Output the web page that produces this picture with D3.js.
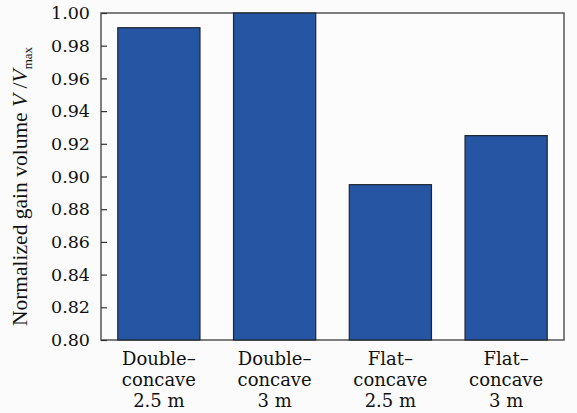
<!DOCTYPE html>
<html>
<head>
<meta charset="utf-8">
<script src="https://cdn.jsdelivr.net/npm/d3@7"></script>
<style>
  body { margin: 0; background: #fbfbfb; }
  svg { display: block; }
</style>
</head>
<body>
<div id="bar-chart"></div>
<script>
/* Normalized gain volume per cavity type */

const categories = [
    ["Double\u2013", "concave", "2.5 m"],
    ["Double\u2013", "concave", "3 m"],
    ["Flat\u2013", "concave", "2.5 m"],
    ["Flat\u2013", "concave", "3 m"]
];
const values = [0.991, 1.000, 0.895, 0.925];
const yTicks = [0.80, 0.82, 0.84, 0.86, 0.88, 0.90, 0.92, 0.94, 0.96, 0.98, 1.00];

const width = 577;
const height = 413;
const margin = ({ top: 13, right: 13, bottom: 73, left: 101 });

let svg = d3.select("#bar-chart")
            .append("svg")
            .attr("width", width)
            .attr("height", height)
            .attr("viewBox", [0, 0, width, height]);

const data = values.map((v, i) => ({ key: i, label: categories[i], value: v }));

const x = d3.scaleBand()
            .domain(data.map(d => d.key))
            .range([margin.left, width - margin.right])
            .paddingInner(0.29)
            .paddingOuter(0.145);

const y = d3.scaleLinear()
            .domain([0.80, 1.00])
            .range([height - margin.bottom, margin.top]);

// plot frame
svg.append("rect")
    .attr("x", margin.left)
    .attr("y", margin.top)
    .attr("width", width - margin.left - margin.right)
    .attr("height", height - margin.top - margin.bottom)
    .attr("fill", "#fcfcfc")
    .attr("stroke", "#555")
    .attr("stroke-width", 1.5);

// bars
svg.selectAll(".bar")
    .data(data)
    .join("rect")
    .attr("class", "bar")
    .attr("x", d => x(d.key))
    .attr("width", x.bandwidth())
    .attr("y", d => y(d.value))
    .attr("height", d => y(0.80) - y(d.value))
    .attr("fill", "#2655a3")
    .attr("stroke", "#1e2530")
    .attr("stroke-width", 1.2);

// y axis
const yAxis = g => g
    .attr("transform", `translate(${margin.left},0)`)
    .call(d3.axisLeft(y).tickValues(yTicks).tickFormat(d3.format(".2f")).tickSize(-6).tickPadding(11))
    .call(g => g.select(".domain").remove())
    .call(g => g.selectAll(".tick line").attr("stroke", "#333").attr("stroke-width", 1.2))
    .call(g => g.selectAll(".tick text")
        .attr("fill", "#111")
        .style("font-family", "'DejaVu Serif', serif")
        .style("font-size", "17.5px"));

svg.append("g").call(yAxis);

// x labels (three lines each)
const xl = svg.append("g")
    .selectAll("text")
    .data(data)
    .join("text")
    .attr("text-anchor", "middle")
    .attr("fill", "#111")
    .style("font-family", "'DejaVu Serif', serif")
    .style("font-size", "18px");

xl.selectAll("tspan")
    .data(d => d.label.map(t => ({ t, cx: x(d.key) + x.bandwidth() / 2 })))
    .join("tspan")
    .attr("x", d => d.cx)
    .attr("y", (d, i) => height - margin.bottom + 25 + i * 21)
    .text(d => d.t);

// y axis title
const yt = svg.append("text")
    .attr("transform", `translate(27, ${margin.top + (height - margin.top - margin.bottom) / 2 + 10}) rotate(-90)`)
    .attr("text-anchor", "middle")
    .attr("fill", "#111")
    .style("font-family", "'Liberation Serif', serif")
    .style("font-size", "21.5px");

yt.append("tspan").text("Normalized gain volume ");
yt.append("tspan").style("font-style", "italic").text("V");
yt.append("tspan").text(" /");
yt.append("tspan").style("font-style", "italic").text("V");
yt.append("tspan").attr("dy", 5).style("font-size", "13px").text("max");
</script>
</body>
</html>
